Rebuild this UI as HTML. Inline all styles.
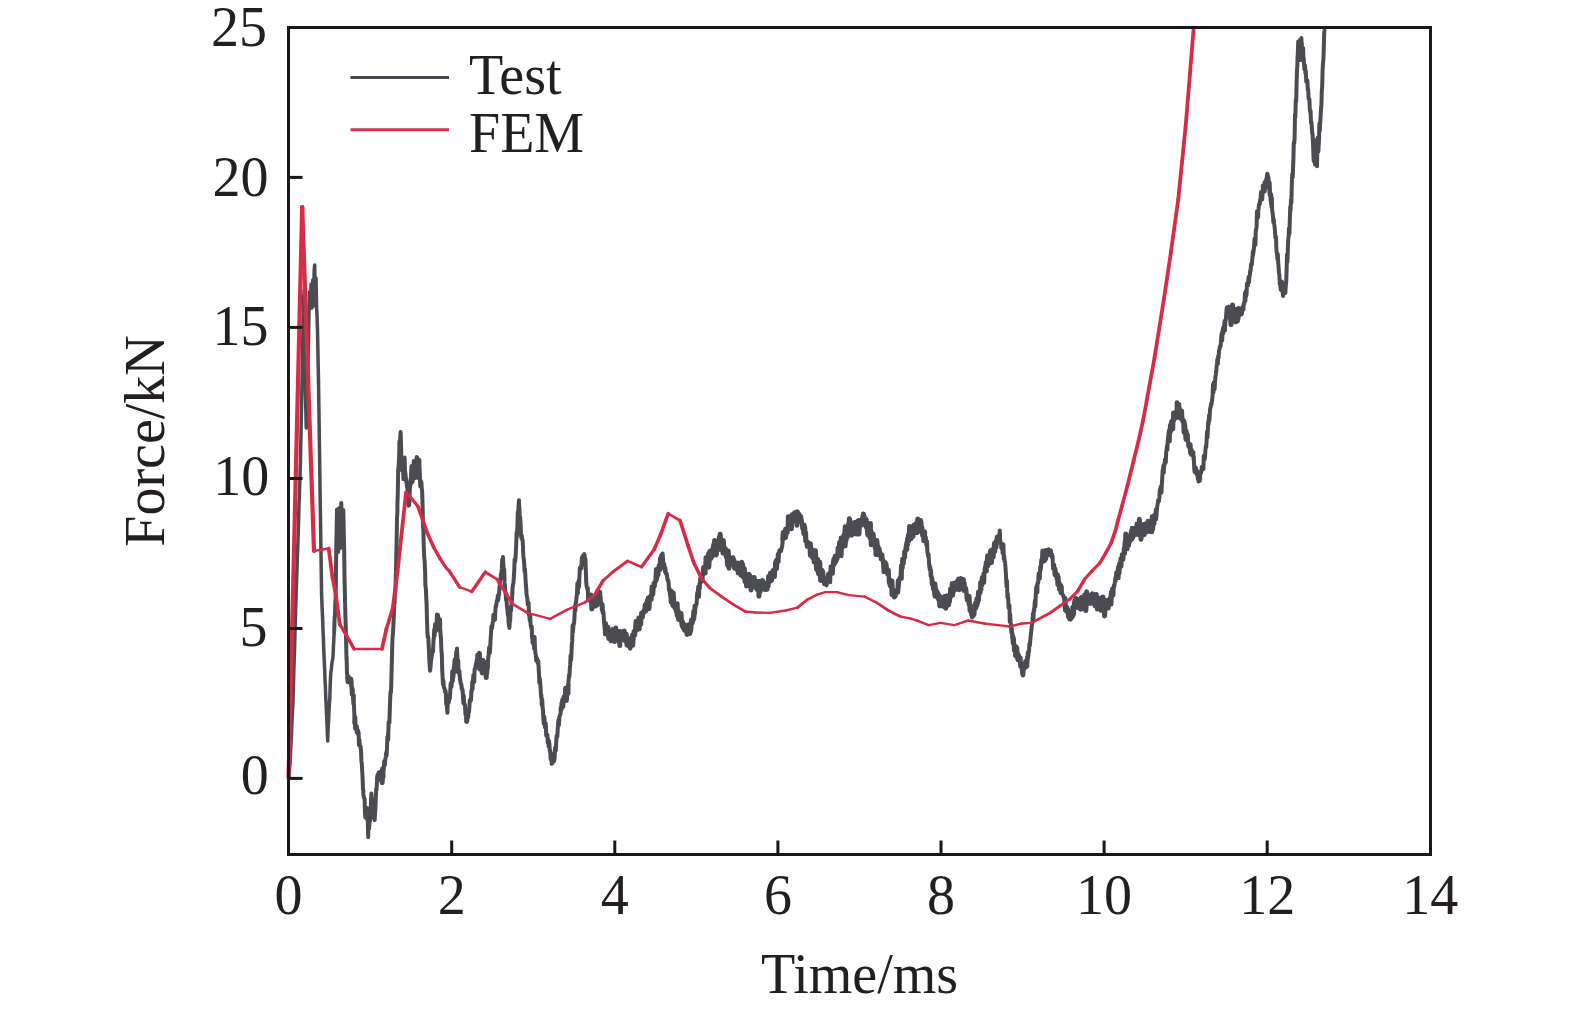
<!DOCTYPE html>
<html><head><meta charset="utf-8"><style>
html,body{margin:0;padding:0;background:#fff;}
svg{display:block;}
text{font-family:"Liberation Serif","Times New Roman",serif;font-size:56px;fill:#231f20;}
</style></head><body>
<svg width="1575" height="1011" viewBox="0 0 1575 1011">
<rect width="1575" height="1011" fill="#fff"/>
<g fill="none" stroke="#4b4c51" stroke-linejoin="round" stroke-linecap="round"><polyline points="288.6,777.5 289.0,774.4 289.4,769.9 289.8,765.4 290.0,765.0 290.2,759.9 290.6,750.4 291.0,743.4 291.4,736.8 291.8,725.2 292.2,716.3 292.6,709.5 293.0,700.6 293.0,700.0 293.4,686.8 293.8,671.8 294.2,660.0 294.6,647.8 295.0,631.2 295.4,619.3 295.8,603.6 296.0,600.0 296.2,591.9 296.6,579.1 297.0,569.6 297.4,556.0 297.8,546.4 298.0,540.0 298.2,533.9 298.6,520.5 299.0,504.0 299.4,494.3 299.8,482.3 300.2,469.8 300.5,460.0 300.6,452.6 301.0,434.2 301.4,413.4 301.8,393.7 302.0,385.0 302.2,375.3 302.6,349.4 303.0,327.8 303.4,306.4 303.4,305.0 303.8,296.6 304.2,289.8 304.2,290.0 304.6,330.2 305.0,370.1 305.0,370.0 305.4,388.0 305.6,400.0 305.8,408.1 306.2,426.2 306.3,428.0 306.6,416.2 307.0,407.6 307.2,400.0 307.4,390.2 307.8,369.0 308.2,353.2 308.2,350.0 308.6,333.4 309.0,312.4 309.4,296.6 309.5,292.0 309.8,298.9 310.2,305.7 310.3,308.0 310.6,300.1 311.0,286.9 311.1,284.0 311.4,294.1 311.8,307.3 311.9,308.0 312.2,296.4 312.6,283.8 312.7,280.0 313.0,289.0 313.4,303.0 313.5,306.0 313.8,288.7 314.2,269.1 314.2,270.0 314.6,265.7 314.7,265.0 315.0,281.4 315.4,301.8 315.4,300.0 315.8,283.2 316.0,278.0 316.2,286.7 316.6,309.0 316.6,308.0 317.0,314.6 317.4,326.8 317.5,330.0 317.8,344.8 318.2,367.0 318.5,380.0 318.6,388.1 319.0,414.5 319.4,442.4 319.5,450.0 319.8,470.6 320.2,501.4 320.5,520.0 320.6,526.1 321.0,553.6 321.4,581.9 321.6,595.0 321.8,599.8 322.2,609.7 322.6,618.2 323.0,630.0 323.0,630.0 323.4,638.9 323.8,651.1 324.2,659.8 324.6,668.4 325.0,679.1 325.4,687.1 325.5,690.0 325.8,698.6 326.2,706.2 326.6,716.4 327.0,722.7 327.4,734.6 327.7,741.0 327.8,736.1 328.2,726.7 328.6,720.7 329.0,710.9 329.4,703.8 329.8,698.3 330.2,684.6 330.6,676.1 330.8,672.7 331.0,671.4 331.4,668.7 331.8,664.5 332.2,661.3 332.6,659.6 333.0,656.1 333.2,653.7 333.4,647.6 333.8,640.1 334.2,631.5" stroke-width="3.5"/>
<polyline points="334.2,631.5 334.6,618.2 335.0,614.5 335.4,601.0 335.6,600.0 335.8,588.2 336.2,553.6 336.3,545.0 336.6,531.2 337.0,509.6 337.0,512.0 337.4,524.9 337.8,530.7 338.2,547.5 338.2,552.0 338.6,537.5 339.0,511.5 339.3,508.0 339.4,515.0 339.8,519.2 340.2,543.8 340.4,548.0 340.6,534.6 341.0,521.1 341.3,503.0 341.4,507.7 341.8,517.9 342.2,545.8 342.3,545.0 342.6,540.3 343.0,520.2 343.3,510.0 343.4,513.9 343.8,534.4 344.2,551.1 344.2,555.0 344.6,581.9 345.0,597.8 345.0,600.0 345.4,615.8 345.8,628.8 346.2,645.5 346.5,660.0 346.6,656.6 347.0,673.7 347.4,675.0 347.5,677.4" stroke-width="4.0"/>
<polyline points="347.5,677.4 347.8,681.9 348.2,678.9 348.6,676.9 349.0,679.1 349.4,679.0 349.8,682.1 350.2,681.4 350.6,682.5 351.0,679.0 351.4,682.1 351.4,685.3" stroke-width="4.5"/>
<polyline points="351.4,685.3 351.8,694.5 352.2,687.8 352.6,688.9 353.0,697.1 353.4,704.0 353.8,695.2 353.8,701.0 354.2,711.2 354.6,720.5 354.6,723.0" stroke-width="4.0"/>
<polyline points="354.6,723.0 355.0,717.2 355.4,728.5 355.8,726.7 356.2,728.3 356.6,726.3 357.0,732.4 357.4,729.7 357.7,732.8" stroke-width="4.5"/>
<polyline points="357.7,732.8 357.8,732.8 358.2,731.1 358.6,732.8 359.0,745.1 359.4,739.9 359.8,745.3 360.2,746.1 360.6,746.6 360.9,750.0 361.0,749.6 361.4,760.9 361.8,763.8 362.2,771.1 362.6,778.4 363.0,789.7 363.3,790.0 363.4,793.9 363.8,797.2 364.2,798.0 364.6,799.2 365.0,813.1 365.4,817.7 365.5,815.0 365.8,813.0 366.2,813.9 366.6,813.0 367.0,811.3 367.0,808.0 367.4,819.4 367.8,821.6 368.2,837.1 368.3,833.0 368.6,824.8 369.0,829.0 369.4,823.3 369.8,820.6 370.0,815.0 370.2,820.4 370.6,814.6 371.0,799.8 371.4,793.4 371.6,798.0 371.8,803.0 372.2,799.1 372.6,806.5 373.0,813.4 373.0,810.0 373.4,805.8 373.8,806.3 374.2,818.1 374.6,819.6 374.7,820.0 375.0,814.0 375.4,808.5 375.8,798.2 376.2,788.9 376.5,790.0 376.6,788.4 377.0,781.5 377.4,775.1 377.8,780.0 377.8,778.0" stroke-width="4.0"/>
<polyline points="377.8,778.0 378.2,777.4 378.6,779.0 379.0,773.1 379.4,774.1 379.8,772.5 380.2,772.6 380.6,776.6 381.0,772.4 381.4,776.7 381.8,776.3 382.2,782.7 382.6,768.7 383.0,777.6 383.0,774.0" stroke-width="5.0"/>
<polyline points="383.0,774.0 383.4,771.2 383.8,769.1 384.2,761.0 384.6,762.6 385.0,765.0 385.0,762.0 385.4,758.9 385.8,756.8 386.2,752.6 386.6,755.6 387.0,748.2 387.4,736.7 387.8,740.0 388.2,732.1 388.2,740.0 388.6,722.1 389.0,722.9 389.4,722.9 389.8,710.3 390.2,697.9 390.6,691.3 391.0,692.1 391.3,682.0 391.4,678.8 391.8,663.1 392.2,647.4 392.4,640.0 392.6,636.6 393.0,632.6 393.4,624.6 393.8,616.2 394.2,604.1 394.6,603.2 395.0,591.4 395.4,591.4 395.8,574.9 395.8,580.0 396.2,560.7 396.6,542.4 397.0,518.4 397.4,511.8 397.4,504.9 397.8,493.3 398.2,468.1 398.2,470.0 398.6,467.1 399.0,459.5 399.2,455.0 399.4,441.3 399.8,446.1 400.2,438.3 400.6,432.3 400.6,432.0 401.0,442.9 401.4,461.3 401.6,470.0 401.8,466.6 402.2,466.8 402.5,458.0 402.6,461.0 403.0,466.3 403.4,479.1 403.7,478.0 403.8,474.3 404.2,469.2 404.6,457.6 404.8,462.0 405.0,470.7 405.4,473.2 405.8,478.0 406.1,478.0 406.2,481.5 406.6,482.8 407.0,486.7 407.4,488.3 407.8,491.9 408.2,496.4 408.6,505.7 409.0,505.4 409.2,504.9 409.4,500.8 409.8,491.1 410.2,483.2 410.5,480.0 410.6,485.0 411.0,475.0 411.4,467.7 411.5,466.0 411.8,469.0 412.2,471.7 412.6,481.7 412.6,482.0 413.0,478.8 413.4,467.1 413.8,461.1 413.8,462.0 414.2,466.4 414.6,473.1 415.0,471.6 415.0,478.0 415.4,471.7 415.8,463.9 416.2,465.5 416.2,462.0 416.6,457.1 417.0,460.6 417.2,457.4 417.4,467.2 417.8,467.4 418.2,473.7 418.3,478.0 418.6,474.9 419.0,469.1 419.4,460.0 419.4,464.0 419.8,473.0 420.2,486.3 420.3,480.0 420.6,480.7 421.0,483.1 421.4,482.0 421.8,489.7 421.9,489.0 422.2,492.9 422.6,505.4 423.0,526.8 423.4,529.9 423.5,536.5 423.8,547.1 424.2,557.3 424.6,560.6 425.0,570.1 425.1,570.0 425.4,585.7 425.8,587.6 426.2,596.6 426.6,604.1 427.0,620.2 427.0,620.0 427.4,632.7 427.8,637.4 428.2,636.5 428.6,643.6 429.0,651.8 429.4,661.7 429.8,666.5 430.0,670.7 430.2,669.8 430.6,666.6 431.0,660.7 431.4,658.3 431.8,655.7 432.2,651.1 432.6,649.9 433.0,651.9 433.4,643.2 433.5,640.0 433.8,638.6 434.2,629.5 434.6,635.7 435.0,624.2 435.4,624.3 435.8,631.2 436.2,628.5 436.6,622.9 437.0,614.6 437.4,617.8 437.7,617.7" stroke-width="4.0"/>
<polyline points="437.7,617.7 437.8,615.3 438.2,621.8 438.6,629.6 439.0,622.7 439.4,620.0 439.8,619.7 440.0,625.0" stroke-width="4.5"/>
<polyline points="440.0,625.0 440.2,628.4 440.6,635.3 441.0,638.7 441.4,651.1 441.8,653.4 442.2,669.8 442.6,676.9 443.0,684.3 443.0,680.0 443.4,680.7 443.8,687.3 444.2,687.3 444.6,688.9 445.0,691.7 445.4,690.5 445.8,692.5 446.2,704.1 446.6,702.8 447.0,707.0 447.4,712.8 447.5,709.4 447.8,700.5 448.2,701.7 448.6,702.9 449.0,701.2 449.4,695.5 449.8,698.5 450.2,692.6 450.6,684.3 451.0,682.8 451.4,687.1 451.8,683.2 452.0,680.0 452.2,671.2 452.6,681.7 453.0,676.3 453.4,676.9 453.8,667.5 454.2,665.4 454.6,659.7 455.0,671.9 455.4,658.6 455.8,663.2 456.2,651.8 456.6,652.7 456.6,652.0 457.0,648.6 457.4,657.1 457.8,665.8 458.2,660.2 458.6,672.8 459.0,673.1 459.4,670.9 459.8,676.3 460.0,680.0 460.2,679.3 460.6,683.3 461.0,683.6 461.4,684.8 461.8,689.2 462.2,688.6 462.6,689.8 463.0,697.1 463.4,703.1 463.8,695.8 464.2,704.2 464.6,703.9 465.0,704.9 465.4,714.5 465.8,711.4 466.2,721.7 466.6,714.9 467.0,721.9 467.2,721.5 467.4,719.3 467.8,714.5 468.2,717.3 468.6,711.7 469.0,712.1 469.4,706.9 469.8,700.1 470.2,701.4 470.6,699.4 471.0,700.4 471.4,690.3 471.8,691.2 472.0,690.0 472.2,682.0 472.6,689.2 473.0,680.1 473.4,674.9 473.8,679.7 474.2,682.1 474.6,669.3 475.0,668.8 475.4,667.9 475.8,664.1 476.2,667.9 476.6,660.9 477.0,659.0 477.4,662.0 477.7,658.0" stroke-width="4.0"/>
<polyline points="477.7,658.0 477.8,655.1 478.2,660.5 478.6,655.6 479.0,655.3 479.4,653.4 479.8,668.9 480.2,660.8 480.6,663.7 481.0,663.2 481.4,664.7 481.8,664.9 482.0,665.0 482.2,673.0 482.6,661.8 483.0,660.4 483.4,663.3 483.8,662.7 484.2,671.7 484.6,672.6 485.0,666.2 485.4,665.1 485.8,669.9 486.2,677.6 486.6,662.3 486.8,673.0" stroke-width="5.0"/>
<polyline points="486.8,673.0 487.0,673.4 487.4,663.6 487.8,668.7 488.2,656.8 488.6,656.6 489.0,648.3 489.4,647.0 489.8,653.0 490.2,647.4 490.6,639.1 491.0,633.8 491.4,626.3 491.8,628.9 492.2,627.0 492.6,623.4 492.8,622.0 493.0,620.7 493.4,614.8 493.8,617.3 494.2,615.6 494.6,619.1 495.0,619.6 495.4,609.8 495.8,605.5 496.2,606.5 496.6,602.6 497.0,600.2 497.4,601.2 497.8,595.4 498.2,600.3 498.6,595.6 498.9,594.7 499.0,594.8 499.4,589.5 499.8,583.8 500.2,579.3 500.6,578.6 501.0,573.8 501.4,573.4 501.8,568.9 502.2,559.9 502.6,562.0 502.8,560.0 503.0,557.1 503.4,565.0 503.8,571.3 504.2,569.2 504.6,582.9 505.0,588.1 505.4,591.9 505.8,595.8 506.0,600.0 506.2,600.2 506.6,601.0 507.0,607.2 507.4,609.3 507.8,615.2 508.2,613.3 508.6,622.4 509.0,625.3 509.4,627.4 509.4,628.0 509.8,621.5 510.2,620.7 510.6,607.2 511.0,610.9 511.4,605.3 511.8,600.8 512.2,596.4 512.6,587.5 513.0,584.4 513.4,583.2 513.8,577.7 514.0,573.6 514.2,571.7 514.6,559.4 515.0,562.1 515.4,559.2 515.8,553.1 516.2,544.6 516.6,532.0 517.0,536.5 517.4,526.7 517.8,511.7 518.2,517.9 518.6,505.0 519.0,500.3 519.0,505.5 519.4,507.4 519.8,519.4 520.2,517.2 520.6,524.1 521.0,534.4 521.4,538.2 521.8,535.8 522.2,539.7 522.6,540.0 523.0,546.6 523.0,549.4 523.4,555.7 523.8,560.1 524.2,563.5 524.6,571.7 525.0,569.2 525.4,576.6 525.8,584.3 526.2,588.3 526.6,594.8 527.0,596.7 527.4,598.4 527.5,600.8 527.8,604.7 528.2,602.4 528.6,603.1 529.0,615.2 529.4,615.9 529.8,620.5 530.2,615.7 530.6,624.3 531.0,626.6 531.4,628.7 531.8,626.4 532.0,637.0 532.2,636.5 532.6,643.0 533.0,642.5 533.4,640.2 533.8,644.1 534.2,648.8 534.6,637.0 535.0,648.5 535.4,652.8 535.8,654.9 536.2,660.6 536.6,659.9 537.0,658.3 537.4,659.8 537.8,663.3 538.0,661.0 538.2,660.9 538.6,666.9 539.0,674.7 539.4,682.9 539.8,678.5 540.2,683.0 540.6,688.0 541.0,696.6 541.4,695.2 541.8,705.2 542.2,699.5 542.6,706.6 543.0,710.6 543.4,718.6 543.8,723.7 544.0,721.5 544.2,716.4 544.6,720.5 545.0,727.3 545.4,725.2 545.8,723.5 546.2,735.5 546.6,735.1 547.0,736.9 547.4,734.9 547.8,742.7 548.2,739.4 548.6,746.5 548.7,742.6 549.0,741.1 549.4,744.1 549.8,751.2 550.2,750.4 550.6,758.7 551.0,759.9 551.4,758.0 551.7,763.8 551.8,763.6 552.2,760.0 552.6,763.2 553.0,755.1 553.4,754.0 553.8,758.8 554.2,761.0 554.6,758.1 555.0,748.5 555.4,747.2 555.8,750.6 556.2,742.1 556.2,742.6 556.6,735.8 557.0,737.3 557.4,735.7 557.8,727.7 558.2,721.6 558.6,719.5 559.0,725.1 559.4,716.5 559.8,716.1 560.2,714.6 560.6,713.3 560.8,709.4" stroke-width="4.0"/>
<polyline points="560.8,709.4 561.0,707.4 561.4,709.4 561.8,702.6 562.2,703.4 562.6,699.4 563.0,706.8 563.4,700.8 563.8,696.7 564.2,696.9 564.6,696.2 565.0,698.5 565.4,688.1 565.8,689.0 566.2,690.3 566.6,700.7 567.0,693.1 567.4,687.5 567.8,689.5 568.2,693.6 568.3,685.0" stroke-width="4.5"/>
<polyline points="568.3,685.0 568.6,680.5 569.0,675.1 569.4,676.6 569.8,669.0 570.2,664.9 570.6,655.4 571.0,660.3 571.4,654.6 571.8,645.3 572.2,640.9 572.6,625.3 572.8,631.0 573.0,631.9 573.4,625.2 573.8,624.3 574.2,621.9 574.6,614.5 575.0,605.7 575.4,610.6 575.8,602.8 576.2,601.0 576.6,596.6 577.0,594.2 577.4,583.0 577.8,593.7 578.2,586.5 578.6,586.6 578.9,579.6 579.0,587.0 579.4,577.3 579.8,568.1 580.2,569.9 580.6,566.7 581.0,567.6 581.4,568.1 581.8,557.8 582.2,565.3 582.6,556.0 583.0,561.4 583.4,557.8 583.8,555.1 584.2,554.2 584.3,554.0 584.6,555.0 585.0,558.9 585.4,558.8 585.8,569.6 586.2,581.3 586.6,586.0 587.0,587.6 587.4,589.3 587.8,588.0 588.2,600.6 588.5,598.0" stroke-width="4.0"/>
<polyline points="588.5,598.0 588.6,597.8 589.0,598.0 589.4,597.3 589.8,599.1 590.2,597.2 590.6,598.8 591.0,595.0 591.4,598.1 591.8,608.9 592.2,599.7 592.6,599.3 593.0,602.6 593.4,603.5 593.8,596.4 594.0,601.0 594.2,600.0 594.6,604.3 595.0,601.4 595.4,600.6 595.8,606.0 596.2,596.8 596.6,599.6 597.0,596.9 597.4,604.7 597.8,590.7 598.2,595.5 598.6,595.8 599.0,600.3 599.4,599.8 599.8,602.7 600.0,597.0" stroke-width="5.0"/>
<polyline points="600.0,597.0 600.2,591.9 600.6,603.6 601.0,601.8 601.4,602.7 601.8,610.0 602.2,606.5 602.5,612.0 602.6,604.3 603.0,613.7 603.4,611.8 603.8,617.7 604.2,624.4 604.6,626.7 605.0,634.3 605.0,628.0" stroke-width="4.0"/>
<polyline points="605.0,628.0 605.4,628.1 605.8,623.6 606.2,627.6 606.6,627.8 607.0,627.4 607.4,634.9 607.8,631.5 608.2,627.0 608.6,638.6 608.8,636.2" stroke-width="4.5"/>
<polyline points="608.8,636.2 609.0,635.7 609.4,637.5 609.8,636.4 610.2,638.5 610.6,636.0 611.0,640.7 611.4,637.4 611.8,637.2 612.2,637.2 612.6,629.6 613.0,634.7 613.4,634.3 613.8,636.1 614.2,629.7 614.6,641.6 615.0,635.4 615.4,630.1 615.8,628.0 616.2,633.7 616.6,634.3 617.0,631.8 617.4,634.9 617.8,631.9 618.2,636.6 618.6,631.4 618.7,634.3 619.0,634.4 619.4,638.9 619.8,645.6 620.2,631.6 620.6,634.2 621.0,633.0 621.4,639.9 621.8,632.5 622.2,635.5 622.6,637.7 623.0,634.3 623.4,634.7 623.8,637.0 624.2,630.9 624.6,633.9 625.0,638.4 625.4,641.0 625.8,640.0 626.2,634.0 626.6,639.6 627.0,645.0 627.4,644.4 627.8,642.3 628.2,639.4 628.6,645.8 629.0,641.3 629.4,639.3 629.6,644.2" stroke-width="5.0"/>
<polyline points="629.6,644.2 629.8,640.5 630.2,648.4 630.6,642.5 631.0,645.2 631.4,637.6 631.8,642.3 632.2,635.1 632.6,635.8 633.0,645.4 633.4,637.5 633.8,631.4 634.2,632.0 634.6,632.6 635.0,635.1 635.4,627.3 635.8,621.2 636.2,626.1 636.5,626.4 636.6,626.3 637.0,625.8 637.4,629.9 637.8,625.1 638.2,626.3 638.6,617.8 639.0,624.9 639.4,629.0 639.8,622.9 640.2,620.0 640.6,618.8 641.0,624.5 641.4,612.9 641.8,615.4 642.2,616.8 642.6,617.2 643.0,611.7 643.4,613.8 643.8,610.7 644.2,611.5 644.6,609.7 645.0,604.8 645.4,608.5 645.8,611.3 646.2,603.1 646.4,606.6 646.6,605.1 647.0,607.7 647.4,599.7 647.8,603.6 648.2,597.6 648.6,605.3 649.0,609.0 649.4,606.8 649.8,596.8 650.2,599.6 650.6,596.0 651.0,594.9 651.4,599.6 651.8,587.1 652.2,595.5 652.4,590.8 652.6,589.9 653.0,594.4 653.4,588.1 653.8,583.3 654.2,585.7 654.6,586.2 655.0,582.0 655.4,582.4 655.8,577.0 656.2,569.2 656.6,580.0 657.0,577.8 657.4,574.2 657.8,572.5 658.2,575.0 658.6,567.7 659.0,565.3 659.4,566.0 659.8,570.1 660.2,558.4 660.6,567.4 661.0,558.7 661.4,555.4 661.8,563.5 662.2,556.7 662.2,557.1" stroke-width="4.5"/>
<polyline points="662.2,557.1 662.6,553.6 663.0,559.0 663.4,565.9 663.8,568.6 664.2,563.8 664.6,568.8 665.0,571.8 665.4,568.0 665.8,573.7 666.2,573.8 666.6,573.5 667.0,575.4 667.4,579.3 667.8,580.8 668.2,580.1 668.6,582.4 669.0,590.2 669.4,588.3 669.8,592.7 670.2,595.6 670.2,590.8" stroke-width="4.0"/>
<polyline points="670.2,590.8 670.6,594.4 671.0,602.3 671.4,591.1 671.8,598.9 672.2,595.6 672.6,605.5 673.0,606.1 673.4,592.7 673.8,597.9 674.2,605.6 674.6,607.3 675.0,608.3 675.4,606.3 675.8,609.6 676.2,611.6 676.6,609.9 677.0,615.6 677.4,603.6 677.8,616.4 678.0,614.5" stroke-width="4.5"/>
<polyline points="678.0,614.5 678.2,610.7 678.6,619.4 679.0,615.3 679.4,613.4 679.8,619.2 680.2,614.7 680.6,615.4 681.0,613.5 681.4,620.4 681.8,623.2 682.2,626.0 682.6,622.0 683.0,627.5 683.4,624.1 683.8,624.3 684.2,627.7 684.6,630.3 685.0,625.4 685.4,626.5 685.8,627.6 686.2,629.2 686.6,626.0 687.0,634.4 687.0,630.3 687.4,628.0 687.8,630.8 688.2,624.9 688.6,629.0 689.0,628.4 689.4,624.5 689.8,633.6 690.2,626.3 690.6,631.2 691.0,627.2 691.4,620.1 691.8,620.5 692.2,623.1 692.6,620.9 693.0,620.2 693.4,618.1 693.8,611.3 693.9,618.4" stroke-width="5.0"/>
<polyline points="693.9,618.4 694.2,615.9 694.6,605.7 695.0,613.8 695.4,607.3 695.8,605.1 696.2,604.9 696.6,604.7 697.0,595.6 697.4,592.2 697.8,592.7 698.2,586.6 698.6,588.7 699.0,596.7 699.4,584.0 699.8,588.6 700.2,578.3 700.6,582.8 701.0,578.1 701.4,577.0 701.8,577.3 701.8,575.0" stroke-width="4.0"/>
<polyline points="701.8,575.0 702.2,581.1 702.6,573.9 703.0,572.6 703.4,567.3 703.8,572.5 704.2,568.2 704.6,571.6 705.0,567.1 705.4,573.3 705.8,557.4 706.2,563.2 706.6,567.0 707.0,561.1 707.4,558.4 707.8,559.5 708.2,554.1 708.6,559.1 709.0,567.4 709.4,561.3 709.7,556.0" stroke-width="4.5"/>
<polyline points="709.7,556.0 709.8,551.4 710.2,551.9 710.6,553.2 711.0,558.3 711.4,550.5 711.8,550.5 712.2,556.3 712.6,555.7 713.0,550.2 713.4,546.7 713.8,544.4 714.2,547.3 714.6,540.6 715.0,552.0 715.4,546.0 715.8,549.9 716.2,554.9 716.6,551.6 717.0,541.8 717.4,549.4 717.8,550.0 718.2,541.9 718.6,540.5 719.0,543.3 719.4,536.9 719.6,543.0 719.8,549.2 720.2,534.3 720.6,540.2 721.0,544.2 721.4,545.0 721.8,547.2 722.2,548.3 722.6,547.0 723.0,553.0 723.4,540.6 723.8,549.8 724.2,547.6 724.6,551.6 725.0,552.6 725.4,548.7 725.8,550.5 726.2,556.8 726.6,555.7 727.0,552.2 727.4,563.8 727.8,565.5 728.2,551.0 728.6,558.8 729.0,568.2 729.4,562.0 729.5,559.0 729.8,560.2 730.2,558.9 730.6,557.9 731.0,559.7 731.4,558.7 731.8,564.3 732.2,560.1 732.6,560.4 733.0,557.7 733.4,562.7 733.8,559.8 734.2,563.0 734.6,568.3 735.0,566.0 735.4,567.0 735.8,566.8 736.2,566.0 736.6,565.7 737.0,565.3 737.4,570.0 737.8,563.0 738.2,573.1 738.6,568.3 739.0,565.6 739.4,567.0 739.8,566.7 740.2,570.4 740.6,567.3 741.0,575.2 741.4,567.9 741.4,571.0 741.8,562.3 742.2,568.9 742.6,564.2 743.0,572.4 743.4,577.2 743.8,576.0 744.2,568.4 744.6,571.2 745.0,581.7 745.4,576.3 745.8,575.4 746.2,580.0 746.6,586.0 747.0,581.8 747.4,577.6 747.8,578.8 748.2,580.3 748.6,575.7 749.0,574.4 749.4,579.2 749.8,575.6 750.2,579.6 750.6,580.6 751.0,590.0 751.4,577.6 751.8,580.9 752.2,581.1 752.6,583.9 753.0,586.8 753.2,582.8 753.4,581.1 753.8,580.2 754.2,577.4 754.6,580.8 755.0,587.1 755.4,585.6 755.8,581.8 756.2,584.9 756.6,587.0 757.0,589.4 757.4,585.4 757.8,587.3 758.2,581.5 758.6,584.6 759.0,596.2 759.4,581.5 759.8,589.3 759.9,590.8 760.2,591.4 760.6,588.6 761.0,586.5 761.4,589.1 761.8,588.9 762.2,588.2 762.6,580.6 763.0,587.1 763.4,583.9 763.8,584.7 764.2,587.4 764.6,588.7 765.0,589.3 765.4,583.3 765.8,588.6 766.2,589.2 766.6,588.6 767.0,589.3 767.4,582.7 767.8,582.2 768.2,585.8 768.6,576.6 769.0,582.5 769.4,579.2 769.8,579.4 769.8,580.9" stroke-width="5.0"/>
<polyline points="769.8,580.9 770.2,573.0 770.6,575.5 771.0,578.1 771.4,580.8 771.8,580.3 772.2,575.0 772.6,573.7 773.0,570.2 773.4,574.2 773.8,570.7 774.2,573.2 774.6,576.8 775.0,568.8 775.4,562.0 775.8,563.6 776.2,560.3 776.6,560.4 776.7,565.0" stroke-width="4.5"/>
<polyline points="776.7,565.0 777.0,568.9 777.4,562.9 777.8,554.1 778.2,561.1 778.6,561.8 779.0,553.5 779.4,550.5 779.8,550.1 780.2,550.9 780.6,550.6 781.0,551.0 781.4,549.4 781.8,547.5 782.2,546.5 782.6,541.9 782.6,539.3" stroke-width="4.0"/>
<polyline points="782.6,539.3 783.0,532.2 783.4,536.9 783.8,537.8 784.2,534.0 784.6,538.3 785.0,532.3 785.4,529.1 785.8,537.6 786.2,533.6 786.6,530.9 787.0,532.8 787.4,532.4 787.8,528.6 788.2,516.4 788.6,522.6 789.0,522.6 789.4,519.5 789.6,523.0" stroke-width="4.5"/>
<polyline points="789.6,523.0 789.8,523.5 790.2,527.0 790.6,519.8 791.0,516.6 791.4,528.8 791.8,518.3 792.2,514.7 792.6,520.1 793.0,520.3 793.4,515.3 793.8,520.7 794.2,515.1 794.6,512.8 795.0,516.7 795.0,516.0 795.4,518.9 795.8,513.0 796.2,516.6 796.6,514.7 797.0,525.3 797.4,511.8 797.8,519.9 798.2,514.0 798.5,514.0" stroke-width="5.0"/>
<polyline points="798.5,514.0 798.6,513.7 799.0,517.9 799.4,519.4 799.8,521.7 800.2,518.7 800.6,515.8 801.0,516.8 801.4,521.8 801.5,520.0" stroke-width="4.5"/>
<polyline points="801.5,520.0 801.8,523.6 802.2,528.5 802.6,526.3 803.0,530.6 803.4,534.1 803.4,528.0" stroke-width="4.0"/>
<polyline points="803.4,528.0 803.8,530.0 804.2,524.7 804.6,527.2 805.0,527.5 805.4,540.9 805.8,532.4 806.2,542.0 806.6,540.8 807.0,546.6 807.4,545.0 807.8,541.9 808.2,542.8 808.6,545.3 809.0,546.9 809.3,547.2 809.4,545.3 809.8,548.2 810.2,555.7 810.6,543.4 811.0,552.1 811.4,548.4 811.8,553.7 812.2,557.2 812.6,554.6 813.0,558.8 813.4,550.3 813.8,562.0 814.2,556.1 814.6,561.9 815.0,561.0 815.3,561.0" stroke-width="4.5"/>
<polyline points="815.3,561.0 815.4,550.8 815.8,558.8 816.2,563.4 816.6,569.4 817.0,565.0 817.4,565.6 817.8,559.6 818.2,571.6 818.6,573.8 819.0,567.4 819.4,567.1 819.8,562.2 820.2,572.8 820.6,580.4 821.0,573.5 821.2,571.0" stroke-width="5.0"/>
<polyline points="821.2,571.0 821.4,576.7 821.8,575.1 822.2,570.3 822.6,580.8 823.0,571.8 823.4,577.2 823.8,580.5 824.0,580.0 824.2,583.9 824.6,582.9 825.0,583.5 825.4,579.8 825.8,578.4 826.2,584.6 826.5,585.0 826.6,582.0 827.0,578.8 827.4,578.1 827.8,580.4 828.2,574.2 828.6,575.4 829.0,573.5 829.0,580.0" stroke-width="4.5"/>
<polyline points="829.0,580.0 829.4,578.8 829.8,577.8 830.2,582.3 830.6,566.4 831.0,567.8 831.1,570.0" stroke-width="4.0"/>
<polyline points="831.1,570.0 831.4,573.0 831.8,567.6 832.2,566.3 832.6,573.6 833.0,564.5 833.4,560.3 833.8,558.8 834.2,564.6 834.6,563.6 835.0,556.0 835.4,556.7 835.8,561.9 836.2,561.2 836.6,555.4 837.0,559.6 837.0,557.1 837.4,558.3 837.8,547.9 838.2,552.7 838.6,554.5 839.0,549.5 839.4,542.2 839.8,548.6 840.2,551.7 840.6,553.9 841.0,537.8 841.4,555.9 841.8,540.0 842.2,547.2 842.6,547.3 843.0,545.2 843.0,541.3 843.4,541.0 843.8,534.8 844.2,541.0 844.6,534.7 845.0,526.5 845.4,546.1 845.8,537.6 846.2,541.1 846.6,529.2 847.0,537.8 847.4,537.4 847.8,536.3 848.2,529.1 848.6,523.4 848.9,527.5" stroke-width="4.5"/>
<polyline points="848.9,527.5 849.0,526.8 849.4,518.7 849.8,520.7 850.2,527.9 850.6,523.5 851.0,526.8 851.4,527.1 851.8,535.2 852.2,532.7 852.6,527.3 853.0,532.3 853.4,524.4 853.8,526.2 854.2,531.1 854.6,522.5 855.0,526.4 855.4,522.2 855.8,528.0 856.2,534.0 856.6,524.5 856.8,527.5 857.0,528.1 857.4,523.1 857.8,521.6 858.2,520.7 858.6,530.9 859.0,534.0 859.4,526.0 859.8,520.6 860.2,525.8 860.6,521.1 861.0,525.1 861.4,522.5 861.8,521.9 862.2,522.7 862.6,517.4 862.7,519.6 863.0,518.5 863.4,513.9 863.8,519.6 864.2,516.4 864.6,522.1 865.0,519.5 865.4,524.4 865.8,526.5 866.2,519.6 866.6,522.7 867.0,522.9 867.4,530.3 867.8,534.8 868.2,532.0 868.6,527.8 868.7,529.4" stroke-width="5.0"/>
<polyline points="868.7,529.4 869.0,535.9 869.4,524.9 869.8,537.9 870.2,530.2 870.6,523.3 871.0,545.0 871.4,541.8 871.8,532.3 872.2,538.0 872.6,537.3 873.0,539.5 873.4,534.1 873.8,538.2 874.2,543.7 874.6,543.6 875.0,548.4 875.4,544.8 875.8,554.8 876.2,543.4 876.6,548.2 876.6,547.2 877.0,540.3 877.4,543.8 877.8,554.9 878.2,546.6 878.6,553.3 879.0,551.8 879.4,548.7 879.8,552.2 880.2,552.4 880.6,553.3 881.0,559.1 881.4,559.5 881.8,555.4 882.2,554.8 882.6,560.4 883.0,559.7 883.4,565.0 883.8,572.1 884.2,565.9 884.5,563.1 884.6,563.2 885.0,563.8 885.4,562.3 885.8,563.2 886.2,564.0 886.6,567.5 887.0,568.6 887.4,574.4 887.8,571.0 888.2,572.9 888.6,570.0 889.0,582.6 889.4,579.2 889.8,585.4 890.2,582.6 890.4,580.0 890.6,586.6 891.0,580.9 891.4,586.1 891.8,594.9 892.2,580.9 892.6,591.7 893.0,595.1 893.4,591.3 893.8,593.9 894.2,597.3 894.6,590.8 895.0,596.4 895.4,592.4 895.4,596.0" stroke-width="4.5"/>
<polyline points="895.4,596.0 895.8,591.6 896.2,590.2 896.6,590.5 897.0,590.1 897.4,589.7 897.8,580.4 898.2,592.7 898.6,587.7 899.0,584.3 899.4,578.2 899.8,577.7 900.2,578.7 900.3,576.0 900.6,576.2 901.0,565.5 901.4,573.4 901.8,578.7 902.2,558.7 902.6,568.3 903.0,563.7 903.4,559.7 903.8,563.7 904.2,551.2 904.6,554.7 905.0,558.0 905.4,549.1 905.8,546.1 906.2,546.3 906.3,545.3" stroke-width="4.0"/>
<polyline points="906.3,545.3 906.6,542.6 907.0,549.7 907.4,538.5 907.8,544.7 908.2,534.9 908.6,541.7 909.0,537.4 909.4,526.3 909.8,535.5 910.2,530.1 910.6,531.5 910.9,532.5" stroke-width="4.5"/>
<polyline points="910.9,532.5 911.0,538.7 911.4,527.3 911.8,527.0 912.2,536.8 912.6,530.8 913.0,536.2 913.4,530.7 913.8,525.2 914.2,528.0 914.6,532.9 915.0,531.2 915.4,526.8 915.8,526.5 916.2,525.3 916.6,522.9 917.0,532.7 917.4,524.3 917.8,519.1 917.9,523.6 918.2,522.1 918.6,527.6 919.0,527.8 919.4,525.2 919.8,523.6 920.2,527.0 920.6,520.6 921.0,522.7 921.4,531.9 921.8,527.2 922.2,531.3 922.6,535.4 923.0,533.6 923.4,531.6 923.8,540.8 924.2,535.4 924.6,531.8 924.8,533.5" stroke-width="5.0"/>
<polyline points="924.8,533.5 925.0,538.0 925.4,539.5 925.8,537.2 926.2,544.0 926.6,545.9 927.0,541.4 927.4,551.7 927.8,554.1 928.2,556.4 928.6,554.3 929.0,562.6 929.4,566.8 929.7,569.1 929.8,570.0 930.2,566.8 930.6,576.0 931.0,570.3 931.4,576.2 931.8,584.4 932.2,578.1 932.6,580.7 933.0,589.2 933.4,585.1 933.8,587.3 934.2,591.3 934.6,596.6 934.7,592.8" stroke-width="4.0"/>
<polyline points="934.7,592.8 935.0,584.1 935.4,590.3 935.8,590.0 936.2,590.2 936.6,591.7 937.0,592.2 937.4,597.4 937.8,593.0 938.2,597.7 938.6,599.3 939.0,595.2 939.4,599.2 939.8,605.9 940.2,601.0 940.6,597.6 941.0,600.4 941.4,597.4 941.8,602.8 942.2,605.7 942.6,599.3 942.6,602.7 943.0,601.4 943.4,606.4 943.8,599.5 944.2,601.9 944.6,596.5 945.0,597.0 945.4,597.8 945.8,608.2 946.2,597.5 946.6,596.6 947.0,596.0 947.4,597.2 947.8,600.1 948.2,597.9 948.6,604.9 949.0,597.2 949.4,601.7 949.8,596.6 950.2,597.5 950.5,594.8 950.6,588.9 951.0,593.5 951.4,593.2 951.8,591.9 952.2,583.6 952.6,595.2 953.0,589.5 953.4,588.7 953.8,588.9 954.2,588.4 954.6,590.3 955.0,583.0 955.4,583.8 955.8,588.0 956.2,586.9 956.6,584.2 957.0,582.8 957.4,581.2 957.8,583.7 958.2,588.0 958.4,583.0 958.6,579.0 959.0,589.7 959.4,587.4 959.8,582.6 960.2,587.9 960.6,579.3 961.0,578.7 961.4,580.8 961.8,584.8 962.2,585.5 962.6,585.1 963.0,588.0 963.4,579.5 963.8,590.4 964.2,583.1 964.3,588.9" stroke-width="5.0"/>
<polyline points="964.3,588.9 964.6,587.2 965.0,589.4 965.4,587.6 965.8,588.0 966.2,590.7 966.6,595.9 967.0,599.5 967.4,600.6 967.8,595.6 968.2,597.6 968.6,598.3 969.0,605.0 969.4,596.3 969.8,610.6 970.2,605.0 970.6,605.0 971.0,610.7 971.4,614.7 971.8,613.2 972.2,617.2 972.2,613.0 972.6,612.7 973.0,616.3 973.4,615.5 973.8,609.3 974.2,614.7 974.6,608.8 975.0,607.7 975.4,602.8 975.8,604.5 976.2,608.0 976.6,598.8 977.0,605.8 977.4,603.8 977.8,602.7 978.2,592.0 978.2,600.8" stroke-width="4.5"/>
<polyline points="978.2,600.8 978.6,598.6 979.0,599.8 979.4,592.3 979.8,594.0 980.2,582.3 980.6,592.7 981.0,585.5 981.4,589.9 981.8,577.2 982.2,585.5 982.6,580.0 983.0,582.4 983.4,573.7 983.8,573.1 984.2,582.7 984.6,568.6 985.0,567.3 985.4,567.2 985.8,562.5 986.1,565.2" stroke-width="4.0"/>
<polyline points="986.1,565.2 986.2,569.8 986.6,571.1 987.0,560.6 987.4,555.7 987.8,566.5 988.2,565.4 988.6,563.4 989.0,564.0 989.4,555.1 989.8,557.1 990.2,551.4 990.6,550.5 991.0,559.2 991.4,551.8 991.8,562.8 992.0,553.3 992.2,553.1 992.6,549.3 993.0,554.1 993.4,557.2 993.8,551.0 994.2,543.2 994.6,548.6 995.0,551.7 995.4,543.3 995.8,541.2 996.2,547.4 996.6,542.9 997.0,537.0 997.4,539.0 997.8,536.5 998.2,539.8 998.6,538.1 999.0,541.3 999.4,538.6 999.5,535.5" stroke-width="4.5"/>
<polyline points="999.5,535.5 999.8,530.6 1000.2,540.3 1000.6,544.0 1001.0,544.1 1001.4,548.2 1001.8,543.7 1002.2,543.8 1002.6,553.2 1003.0,547.0 1003.4,544.4 1003.8,559.0 1003.9,555.3 1004.2,555.7 1004.6,561.9 1005.0,562.0 1005.4,566.7 1005.8,571.9 1006.2,579.5 1006.6,586.9 1007.0,580.7 1007.4,597.3 1007.8,594.1 1007.8,598.8 1008.2,597.7 1008.6,607.8 1009.0,608.0 1009.4,605.3 1009.8,622.0 1010.2,614.3 1010.6,621.9 1011.0,624.9 1011.4,632.9 1011.8,628.6 1012.2,637.6 1012.6,633.8 1012.8,638.3" stroke-width="4.0"/>
<polyline points="1012.8,638.3 1013.0,643.5 1013.4,637.3 1013.8,640.2 1014.2,650.6 1014.6,645.6 1015.0,646.1 1015.4,656.0 1015.8,649.8 1016.2,646.4 1016.6,654.0 1017.0,647.7 1017.4,658.3 1017.8,659.9 1018.2,654.1 1018.6,655.3 1018.7,658.1" stroke-width="4.5"/>
<polyline points="1018.7,658.1 1019.0,660.0 1019.4,660.9 1019.8,658.5 1020.2,666.3 1020.6,657.4 1021.0,665.5 1021.4,667.1 1021.8,669.3 1022.2,673.2 1022.6,668.6 1022.7,673.9" stroke-width="4.0"/>
<polyline points="1022.7,673.9 1023.0,675.3 1023.4,670.9 1023.8,667.8 1024.2,663.6 1024.6,663.0 1025.0,667.9 1025.4,661.3 1025.8,664.2 1026.2,666.9 1026.6,665.5 1027.0,666.3 1027.4,657.6 1027.6,658.1" stroke-width="4.5"/>
<polyline points="1027.6,658.1 1027.8,652.2 1028.2,657.4 1028.6,651.4 1029.0,651.5 1029.4,643.9 1029.8,645.5 1030.2,640.9 1030.6,637.3 1031.0,633.3 1031.4,629.7 1031.8,625.9 1032.2,622.7 1032.6,622.6 1032.6,618.6 1033.0,613.6 1033.4,619.7 1033.8,609.5 1034.2,610.9 1034.6,603.7 1035.0,600.2 1035.4,606.4 1035.8,594.1 1036.2,587.3 1036.6,586.7 1037.0,585.4 1037.4,592.3 1037.5,583.0 1037.8,582.3 1038.2,583.2 1038.6,573.5 1039.0,576.9 1039.4,576.2 1039.8,578.7 1040.2,566.7 1040.6,569.9 1041.0,566.7 1041.4,559.4 1041.5,563.0" stroke-width="4.0"/>
<polyline points="1041.5,563.0 1041.8,562.2 1042.2,560.1 1042.6,550.9 1043.0,561.5 1043.4,560.3 1043.8,555.3 1044.2,550.7 1044.6,560.9 1045.0,555.1 1045.0,554.0" stroke-width="4.5"/>
<polyline points="1045.0,554.0 1045.4,557.6 1045.8,558.7 1046.2,550.5 1046.6,555.4 1047.0,550.7 1047.4,551.0 1047.8,550.5 1048.2,550.3 1048.5,550.0" stroke-width="5.0"/>
<polyline points="1048.5,550.0 1048.6,554.7 1049.0,551.5 1049.4,551.2 1049.8,551.5 1050.2,554.8 1050.6,550.6 1051.0,553.0 1051.4,555.6 1051.8,554.3 1052.0,557.0" stroke-width="4.5"/>
<polyline points="1052.0,557.0 1052.2,557.2 1052.6,556.7 1053.0,568.6 1053.4,567.4 1053.8,565.3 1054.2,564.7 1054.6,575.1 1055.0,569.1 1055.4,568.9 1055.8,571.9 1056.2,573.3 1056.6,579.2 1057.0,574.9 1057.0,575.0 1057.4,584.8 1057.8,574.4 1058.2,582.1 1058.6,576.8 1059.0,589.5 1059.4,582.3 1059.8,584.8 1060.2,590.2 1060.6,593.0 1061.0,585.0 1061.4,589.5 1061.8,586.7 1062.0,593.0 1062.2,594.3 1062.6,594.8 1063.0,595.4 1063.4,595.5 1063.8,598.2 1064.2,598.3 1064.6,604.9 1065.0,610.3 1065.4,598.0 1065.8,606.8 1066.0,608.0" stroke-width="4.0"/>
<polyline points="1066.0,608.0 1066.2,606.9 1066.6,611.7 1067.0,607.0 1067.4,611.4 1067.8,608.9 1068.2,617.0 1068.6,615.7 1069.0,615.8 1069.4,619.1 1069.8,617.7 1069.9,619.0 1070.2,611.9 1070.6,619.4 1071.0,617.0 1071.4,614.1 1071.8,617.5 1072.2,617.3 1072.6,607.0 1073.0,607.1 1073.4,615.3 1073.8,613.6 1074.2,603.8 1074.6,600.9 1074.8,605.1" stroke-width="4.5"/>
<polyline points="1074.8,605.1 1075.0,602.5 1075.4,602.8 1075.8,598.3 1076.2,604.5 1076.6,599.1 1077.0,599.2 1077.4,607.5 1077.8,600.9 1078.2,603.1 1078.6,605.7 1079.0,606.3 1079.4,601.5 1079.8,602.8 1080.2,599.1 1080.6,609.2 1081.0,604.6 1081.4,597.4 1081.8,601.7 1082.2,604.3 1082.6,603.2 1083.0,608.4 1083.4,606.3 1083.8,598.5 1084.2,600.1 1084.6,595.1 1084.7,600.2 1085.0,601.2 1085.4,600.8 1085.8,610.6 1086.2,600.6 1086.6,591.8 1087.0,597.5 1087.4,600.6 1087.8,595.2 1088.2,596.7 1088.6,598.7 1089.0,601.6 1089.4,599.5 1089.8,596.6 1090.2,603.4 1090.6,598.0 1091.0,598.2 1091.4,594.7 1091.8,597.1 1092.2,602.8 1092.6,593.7 1093.0,599.9 1093.4,603.1 1093.8,598.7 1094.2,601.2 1094.6,595.7 1094.6,600.2 1095.0,605.7 1095.4,605.2 1095.8,602.0 1096.2,594.4 1096.6,597.5 1097.0,605.9 1097.4,609.1 1097.8,603.8 1098.2,607.9 1098.6,600.8 1099.0,602.7 1099.4,603.8 1099.8,605.8 1100.2,598.3 1100.6,608.4 1101.0,610.3 1101.4,600.7 1101.8,600.2 1102.2,607.3 1102.6,603.6 1103.0,597.0 1103.4,610.0 1103.8,607.7 1104.2,605.5 1104.5,607.6 1104.6,615.9 1105.0,607.3 1105.4,603.1 1105.8,605.8 1106.2,600.6 1106.6,601.0 1107.0,605.0 1107.4,600.5 1107.8,600.3 1108.2,608.1 1108.6,604.2 1109.0,603.3 1109.4,601.5 1109.8,600.7 1110.2,603.9 1110.6,597.3 1111.0,604.1 1111.4,592.2 1111.8,594.3 1111.9,595.2" stroke-width="5.0"/>
<polyline points="1111.9,595.2 1112.2,588.6 1112.6,591.3 1113.0,593.2 1113.4,595.5 1113.8,585.6 1114.2,586.8 1114.6,583.8 1115.0,580.9 1115.4,577.6 1115.8,581.1 1116.2,572.5 1116.6,578.4 1117.0,576.5 1117.4,572.4 1117.8,569.5 1118.2,566.5 1118.6,578.1 1119.0,563.7 1119.3,568.0 1119.4,573.8 1119.8,568.4 1120.2,563.0 1120.6,558.2 1121.0,565.4 1121.4,566.6 1121.8,554.3 1122.2,555.3 1122.6,559.1 1123.0,554.6 1123.4,559.7 1123.8,547.8 1124.2,550.6 1124.6,541.9 1125.0,553.7 1125.4,540.8 1125.5,543.3" stroke-width="4.0"/>
<polyline points="1125.5,543.3 1125.8,534.0 1126.2,541.8 1126.6,541.2 1127.0,548.8 1127.4,539.3 1127.8,540.0 1128.2,541.9 1128.6,545.3 1129.0,538.1 1129.4,541.9 1129.8,539.3 1130.2,535.5 1130.6,536.4 1131.0,535.6 1131.4,531.3 1131.8,539.2 1132.2,528.3 1132.6,537.9 1133.0,536.5 1133.4,531.8 1133.8,528.5 1134.2,530.1 1134.2,531.0 1134.6,532.8 1135.0,533.8 1135.4,531.8 1135.8,534.6 1136.2,528.3 1136.6,531.3 1137.0,524.0 1137.4,533.2 1137.8,530.7 1138.2,528.3 1138.6,534.5 1139.0,532.6 1139.4,519.3 1139.8,529.7 1140.2,523.7 1140.6,533.7 1141.0,539.2 1141.4,527.1 1141.8,529.4 1142.2,528.0 1142.6,530.3 1143.0,531.4 1143.4,533.8 1143.8,524.6 1144.1,528.5 1144.2,534.7 1144.6,524.5 1145.0,529.2 1145.4,532.5 1145.8,530.5 1146.2,523.7 1146.6,524.4 1147.0,525.2 1147.4,526.6 1147.8,531.2 1148.2,521.3 1148.6,528.1 1149.0,528.5 1149.4,528.1 1149.8,527.5 1150.2,531.5 1150.6,527.2 1151.0,528.4 1151.4,527.1 1151.8,531.8 1152.2,516.8 1152.6,529.3 1153.0,523.0 1153.4,522.7 1153.8,519.7 1154.0,523.5" stroke-width="5.0"/>
<polyline points="1154.0,523.5 1154.2,515.1 1154.6,519.3 1155.0,516.2 1155.4,519.1 1155.8,509.5 1156.2,519.3 1156.6,512.8 1157.0,508.9 1157.4,505.3 1157.8,503.1 1158.2,500.0 1158.6,500.5 1158.9,501.3 1159.0,500.7 1159.4,497.4 1159.8,489.8 1160.2,491.9 1160.6,486.8 1161.0,488.4 1161.4,492.7 1161.8,485.1 1162.2,478.8 1162.6,471.0 1163.0,469.2 1163.4,465.6 1163.8,472.6 1163.9,469.1 1164.2,464.1 1164.6,464.8 1165.0,459.5 1165.4,459.8 1165.8,462.4 1166.2,451.5 1166.6,450.3 1167.0,445.8 1167.4,449.9 1167.8,439.7 1168.2,436.7 1168.6,433.1 1169.0,430.4 1169.4,435.4 1169.8,441.2 1170.0,429.6" stroke-width="4.0"/>
<polyline points="1170.0,429.6 1170.2,425.1 1170.6,431.8 1171.0,427.9 1171.4,421.4 1171.8,423.6 1172.2,422.7 1172.6,419.8 1173.0,429.2 1173.4,412.7 1173.8,420.8 1174.2,419.5 1174.6,414.8 1175.0,416.6 1175.4,418.4 1175.8,414.4 1176.2,414.4 1176.6,414.4 1177.0,402.4 1177.4,415.4 1177.8,417.5 1178.2,411.2 1178.2,407.3 1178.6,412.6 1179.0,404.2 1179.4,410.6 1179.8,409.1 1180.2,411.2 1180.6,418.7 1181.0,412.8 1181.4,416.8 1181.8,410.9 1182.2,419.2 1182.6,421.4 1183.0,419.5 1183.4,420.7 1183.8,432.4 1184.2,421.2 1184.6,423.1 1185.0,425.3 1185.4,434.6 1185.8,439.5 1186.1,432.0" stroke-width="4.5"/>
<polyline points="1186.1,432.0 1186.2,433.7 1186.6,431.0 1187.0,433.6 1187.4,441.0 1187.8,434.6 1188.2,445.5 1188.6,446.9 1189.0,442.9 1189.4,446.7 1189.8,448.6 1190.2,453.3 1190.6,444.3 1191.0,454.7 1191.4,450.0 1191.8,449.9 1192.2,454.8 1192.6,455.0 1193.0,453.4 1193.4,452.4 1193.5,459.2 1193.8,456.8 1194.2,468.1 1194.6,472.0 1195.0,468.5 1195.4,472.4 1195.8,467.4 1196.2,470.9 1196.6,474.2 1197.0,470.5 1197.4,472.6 1197.8,478.8 1198.2,478.9 1198.5,481.5 1198.6,476.9 1199.0,481.2 1199.4,477.2 1199.8,480.9 1200.2,475.4 1200.6,472.7 1201.0,473.0 1201.4,470.4 1201.8,467.0 1202.2,466.6 1202.6,469.8 1203.0,467.9 1203.4,469.0 1203.8,455.7 1204.2,459.4 1204.6,457.9 1204.7,459.2 1205.0,456.9 1205.4,450.4 1205.8,446.1 1206.2,447.3 1206.6,440.9 1207.0,431.5 1207.4,437.5 1207.8,432.1 1208.2,421.8 1208.4,422.1 1208.6,424.2 1209.0,415.6 1209.4,420.7 1209.8,412.9 1210.2,408.2 1210.6,407.5 1211.0,403.6 1211.4,405.0 1211.8,402.6 1212.2,399.6 1212.6,394.9 1213.0,384.3 1213.4,392.7 1213.8,382.4 1214.2,388.6 1214.4,386.4 1214.6,389.3 1215.0,382.7 1215.4,376.9 1215.8,374.6 1216.2,371.6 1216.6,366.8 1217.0,363.5 1217.4,358.9 1217.8,364.2 1218.2,356.2 1218.3,355.5 1218.6,357.7 1219.0,350.6 1219.4,349.7 1219.8,346.5 1220.2,346.8 1220.6,346.0 1221.0,341.5 1221.4,335.6 1221.8,333.0 1222.2,340.5 1222.6,330.5 1223.0,328.3 1223.4,333.1 1223.4,327.2 1223.8,330.0 1224.2,326.2 1224.6,320.9 1225.0,330.3 1225.4,320.9 1225.8,319.9 1226.2,315.5 1226.6,308.9 1227.0,307.6 1227.3,311.8" stroke-width="4.0"/>
<polyline points="1227.3,311.8 1227.4,313.5 1227.8,313.7 1228.2,311.4 1228.6,308.0 1229.0,307.2 1229.4,311.9 1229.8,307.6 1230.2,317.3 1230.6,318.6 1231.0,324.7 1231.4,318.0 1231.8,312.4 1232.2,311.6 1232.6,304.9 1233.0,313.2 1233.4,315.1 1233.8,320.0 1234.2,318.8 1234.6,319.0 1235.0,317.8 1235.0,316.9 1235.4,319.1 1235.8,321.9 1236.2,311.4 1236.6,313.5 1237.0,309.3 1237.4,321.0 1237.8,319.3 1238.2,316.7 1238.6,308.5 1239.0,313.6 1239.4,311.6 1239.8,312.4 1240.2,310.9 1240.6,313.4 1241.0,309.3 1241.4,313.9 1241.8,311.1 1242.2,308.5 1242.6,308.9 1242.7,309.2" stroke-width="5.0"/>
<polyline points="1242.7,309.2 1243.0,306.1 1243.4,309.3 1243.8,303.2 1244.2,303.7 1244.6,299.2 1245.0,293.0 1245.4,300.8 1245.8,291.1 1246.2,296.3 1246.6,293.5 1247.0,283.4 1247.4,284.5 1247.8,284.4 1247.9,286.0 1248.2,280.9 1248.6,277.0 1249.0,282.3 1249.4,276.0 1249.8,276.1 1250.2,270.4 1250.6,270.9 1251.0,264.3 1251.4,264.8 1251.8,264.8 1252.2,260.2 1252.6,255.8 1253.0,250.9 1253.0,255.2 1253.4,252.5 1253.8,249.8 1254.2,244.1 1254.6,238.6 1255.0,240.5 1255.4,244.9 1255.8,230.4 1256.2,229.6 1256.6,226.4 1257.0,211.2 1257.4,218.6 1257.8,211.9 1258.2,216.9 1258.2,211.4 1258.6,208.4 1259.0,204.3 1259.4,204.5 1259.8,204.1 1260.2,199.2 1260.6,199.2 1261.0,192.0 1261.4,194.6 1261.8,196.6 1262.2,199.4 1262.6,192.3 1263.0,188.6 1263.3,186.0" stroke-width="4.0"/>
<polyline points="1263.3,186.0 1263.4,190.6 1263.8,189.2 1264.2,191.1 1264.6,188.0 1265.0,182.5 1265.4,183.3 1265.8,182.3 1266.2,182.1 1266.6,181.0 1266.7,180.0" stroke-width="5.0"/>
<polyline points="1266.7,180.0 1267.0,177.9 1267.4,174.0 1267.8,181.2 1268.2,177.1 1268.6,186.9 1269.0,188.0 1269.4,182.7 1269.8,193.6 1270.2,195.7 1270.6,194.0 1271.0,201.7 1271.0,195.0" stroke-width="4.5"/>
<polyline points="1271.0,195.0 1271.4,206.4 1271.8,198.0 1272.2,210.9 1272.6,212.5 1273.0,216.3 1273.4,222.3 1273.8,219.6 1274.2,224.0 1274.6,227.0 1275.0,231.2 1275.4,237.8 1275.8,236.3 1276.2,241.8 1276.2,246.0 1276.6,252.2 1277.0,253.5 1277.4,259.2 1277.8,254.0 1278.2,262.3 1278.6,267.1 1279.0,273.3 1279.4,274.7 1279.5,278.0 1279.8,284.5 1280.2,284.2 1280.6,288.2 1280.8,290.0 1281.0,288.7 1281.4,288.8 1281.8,281.4 1282.0,282.0 1282.2,289.0 1282.6,291.5 1283.0,295.3 1283.1,296.0 1283.4,293.6 1283.8,292.1 1284.2,290.6 1284.5,284.0 1284.6,288.4 1285.0,288.5 1285.4,292.9 1285.5,290.0 1285.8,285.1 1286.2,282.4 1286.6,270.0 1287.0,254.6 1287.0,262.9 1287.4,262.0 1287.8,250.8 1288.2,239.5 1288.6,237.1 1289.0,228.2 1289.4,233.8 1289.8,221.2 1290.2,206.7 1290.3,211.4 1290.6,209.1 1291.0,199.4 1291.4,202.8 1291.8,185.0 1292.2,174.3 1292.6,177.6 1292.9,172.9 1293.0,169.1 1293.4,159.1 1293.8,142.6 1294.2,143.2 1294.6,138.5 1295.0,114.5 1295.4,117.1 1295.5,110.0 1295.8,99.9 1296.2,101.2 1296.6,83.1 1297.0,70.2 1297.4,65.0 1297.5,58.0 1297.8,54.1 1298.2,41.6 1298.3,42.0 1298.6,51.6 1299.0,55.7 1299.1,60.0 1299.4,45.3 1299.8,50.6 1299.9,40.0 1300.2,46.1 1300.6,55.1 1300.7,60.0 1301.0,54.6 1301.4,38.0 1301.5,42.0 1301.8,43.3 1302.2,55.8 1302.3,60.0 1302.6,53.4 1303.0,49.8 1303.1,48.0 1303.4,57.8 1303.8,58.5 1304.0,64.0 1304.2,67.2 1304.6,70.0 1305.0,65.6 1305.4,73.2 1305.8,70.9 1306.2,81.3 1306.6,81.2 1306.7,80.0 1307.0,82.6 1307.4,80.5 1307.8,89.6 1308.2,89.4 1308.6,98.7 1309.0,98.7 1309.4,99.3 1309.8,109.5 1310.2,112.1 1310.3,110.0 1310.6,111.2 1311.0,123.0 1311.4,122.0 1311.8,126.8 1312.2,133.3 1312.6,134.6 1312.8,140.0 1313.0,143.2 1313.4,154.4 1313.6,160.0 1313.8,161.1 1314.2,151.0 1314.4,140.0 1314.6,145.0 1315.0,164.4 1315.2,164.0 1315.4,158.3 1315.8,149.0 1316.0,142.0 1316.2,150.5 1316.6,158.2 1316.8,162.0 1317.0,166.2 1317.4,146.5 1317.6,140.0 1317.8,137.4 1318.2,151.9 1318.5,150.0 1318.6,146.6 1319.0,139.9 1319.4,123.6 1319.8,130.8 1320.2,123.0 1320.6,115.8 1321.0,109.4 1321.4,105.1 1321.8,91.0 1321.8,91.2 1322.2,86.0 1322.6,70.3 1323.0,62.9 1323.4,59.6 1323.8,47.9 1324.2,32.1 1324.5,30.7" stroke-width="4.0"/></g>
<g stroke="#d62c46" stroke-linecap="round" fill="none"><line x1="288.6" y1="777.5" x2="302.2" y2="207.0" stroke-width="4.20"/><line x1="302.2" y1="207.0" x2="314.0" y2="551.0" stroke-width="4.20"/><line x1="314.0" y1="551.0" x2="328.7" y2="548.5" stroke-width="2.34"/><line x1="328.7" y1="548.5" x2="332.6" y2="578.5" stroke-width="3.78"/><line x1="332.6" y1="578.5" x2="335.8" y2="594.3" stroke-width="3.74"/><line x1="335.8" y1="594.3" x2="339.8" y2="624.4" stroke-width="3.77"/><line x1="339.8" y1="624.4" x2="343.7" y2="630.7" stroke-width="3.38"/><line x1="343.7" y1="630.7" x2="349.2" y2="640.2" stroke-width="3.42"/><line x1="349.2" y1="640.2" x2="354.0" y2="649.0" stroke-width="3.46"/><line x1="354.0" y1="649.0" x2="382.0" y2="649.0" stroke-width="2.30"/><line x1="382.0" y1="649.0" x2="386.4" y2="629.0" stroke-width="3.73"/><line x1="386.4" y1="629.0" x2="392.7" y2="608.6" stroke-width="3.67"/><line x1="392.7" y1="608.6" x2="397.5" y2="572.0" stroke-width="3.77"/><line x1="397.5" y1="572.0" x2="400.0" y2="548.0" stroke-width="3.78"/><line x1="400.0" y1="548.0" x2="406.1" y2="492.5" stroke-width="3.78"/><line x1="406.1" y1="492.5" x2="411.6" y2="498.5" stroke-width="3.12"/><line x1="411.6" y1="498.5" x2="417.9" y2="506.4" stroke-width="3.22"/><line x1="417.9" y1="506.4" x2="421.9" y2="517.5" stroke-width="3.63"/><line x1="421.9" y1="517.5" x2="427.4" y2="533.3" stroke-width="3.64"/><line x1="427.4" y1="533.3" x2="433.8" y2="547.5" stroke-width="3.55"/><line x1="433.8" y1="547.5" x2="440.1" y2="558.6" stroke-width="3.43"/><line x1="440.1" y1="558.6" x2="446.4" y2="568.1" stroke-width="3.34"/><line x1="446.4" y1="568.1" x2="449.0" y2="570.6" stroke-width="3.02"/><line x1="449.0" y1="570.6" x2="459.6" y2="587.2" stroke-width="3.37"/><line x1="459.6" y1="587.2" x2="471.7" y2="591.7" stroke-width="2.48"/><line x1="471.7" y1="591.7" x2="485.3" y2="572.0" stroke-width="3.32"/><line x1="485.3" y1="572.0" x2="497.4" y2="579.6" stroke-width="2.72"/><line x1="497.4" y1="579.6" x2="512.5" y2="603.8" stroke-width="3.38"/><line x1="512.5" y1="603.8" x2="527.5" y2="612.8" stroke-width="2.70"/><line x1="527.5" y1="612.8" x2="550.2" y2="618.9" stroke-width="2.40"/><line x1="550.2" y1="618.9" x2="566.8" y2="609.8" stroke-width="2.65"/><line x1="566.8" y1="609.8" x2="585.0" y2="602.3" stroke-width="2.52"/><line x1="585.0" y1="602.3" x2="595.0" y2="594.7" stroke-width="2.85"/><line x1="595.0" y1="594.7" x2="602.9" y2="580.9" stroke-width="3.43"/><line x1="602.9" y1="580.9" x2="612.8" y2="572.0" stroke-width="2.97"/><line x1="612.8" y1="572.0" x2="627.6" y2="561.0" stroke-width="2.83"/><line x1="627.6" y1="561.0" x2="641.5" y2="567.0" stroke-width="2.54"/><line x1="641.5" y1="567.0" x2="654.3" y2="549.2" stroke-width="3.29"/><line x1="654.3" y1="549.2" x2="660.3" y2="535.4" stroke-width="3.56"/><line x1="660.3" y1="535.4" x2="668.2" y2="513.6" stroke-width="3.63"/><line x1="668.2" y1="513.6" x2="680.0" y2="520.5" stroke-width="2.68"/><line x1="680.0" y1="520.5" x2="688.0" y2="545.3" stroke-width="3.66"/><line x1="688.0" y1="545.3" x2="693.9" y2="563.0" stroke-width="3.65"/><line x1="693.9" y1="563.0" x2="701.8" y2="578.9" stroke-width="3.50"/><line x1="701.8" y1="578.9" x2="709.7" y2="587.8" stroke-width="3.14"/><line x1="709.7" y1="587.8" x2="721.6" y2="596.7" stroke-width="2.84"/><line x1="721.6" y1="596.7" x2="733.5" y2="604.6" stroke-width="2.76"/><line x1="733.5" y1="604.6" x2="745.3" y2="611.5" stroke-width="2.68"/><line x1="745.3" y1="611.5" x2="755.0" y2="612.5" stroke-width="2.32"/><line x1="755.0" y1="612.5" x2="769.8" y2="612.9" stroke-width="2.30"/><line x1="769.8" y1="612.9" x2="785.6" y2="610.5" stroke-width="2.33"/><line x1="785.6" y1="610.5" x2="797.5" y2="607.6" stroke-width="2.38"/><line x1="797.5" y1="607.6" x2="807.4" y2="599.7" stroke-width="2.88"/><line x1="807.4" y1="599.7" x2="817.2" y2="594.7" stroke-width="2.61"/><line x1="817.2" y1="594.7" x2="825.2" y2="592.1" stroke-width="2.44"/><line x1="825.2" y1="592.1" x2="837.0" y2="592.1" stroke-width="2.30"/><line x1="837.0" y1="592.1" x2="848.9" y2="595.1" stroke-width="2.39"/><line x1="848.9" y1="595.1" x2="864.7" y2="596.7" stroke-width="2.32"/><line x1="864.7" y1="596.7" x2="876.6" y2="602.6" stroke-width="2.60"/><line x1="876.6" y1="602.6" x2="888.4" y2="610.5" stroke-width="2.76"/><line x1="888.4" y1="610.5" x2="900.3" y2="616.5" stroke-width="2.60"/><line x1="900.3" y1="616.5" x2="910.0" y2="618.4" stroke-width="2.36"/><line x1="910.0" y1="618.4" x2="916.9" y2="620.5" stroke-width="2.43"/><line x1="916.9" y1="620.5" x2="928.7" y2="625.1" stroke-width="2.50"/><line x1="928.7" y1="625.1" x2="940.6" y2="622.9" stroke-width="2.35"/><line x1="940.6" y1="622.9" x2="954.4" y2="625.1" stroke-width="2.34"/><line x1="954.4" y1="625.1" x2="968.3" y2="620.5" stroke-width="2.45"/><line x1="968.3" y1="620.5" x2="984.1" y2="623.5" stroke-width="2.35"/><line x1="984.1" y1="623.5" x2="998.0" y2="625.1" stroke-width="2.32"/><line x1="998.0" y1="625.1" x2="1009.8" y2="626.5" stroke-width="2.32"/><line x1="1009.8" y1="626.5" x2="1021.7" y2="623.5" stroke-width="2.39"/><line x1="1021.7" y1="623.5" x2="1031.6" y2="622.9" stroke-width="2.31"/><line x1="1031.6" y1="622.9" x2="1043.4" y2="616.5" stroke-width="2.64"/><line x1="1043.4" y1="616.5" x2="1050.0" y2="613.0" stroke-width="2.63"/><line x1="1050.0" y1="613.0" x2="1059.9" y2="606.0" stroke-width="2.80"/><line x1="1059.9" y1="606.0" x2="1069.8" y2="599.1" stroke-width="2.79"/><line x1="1069.8" y1="599.1" x2="1077.7" y2="591.2" stroke-width="3.05"/><line x1="1077.7" y1="591.2" x2="1084.6" y2="579.3" stroke-width="3.42"/><line x1="1084.6" y1="579.3" x2="1092.5" y2="570.4" stroke-width="3.14"/><line x1="1092.5" y1="570.4" x2="1099.5" y2="563.5" stroke-width="3.04"/><line x1="1099.5" y1="563.5" x2="1105.4" y2="553.6" stroke-width="3.41"/><line x1="1105.4" y1="553.6" x2="1111.3" y2="542.7" stroke-width="3.46"/><line x1="1111.3" y1="542.7" x2="1115.3" y2="530.9" stroke-width="3.65"/><line x1="1115.3" y1="530.9" x2="1118.2" y2="520.0" stroke-width="3.70"/><line x1="1118.2" y1="520.0" x2="1122.0" y2="506.0" stroke-width="3.70"/><line x1="1122.0" y1="506.0" x2="1127.4" y2="486.0" stroke-width="3.70"/><line x1="1127.4" y1="486.0" x2="1133.8" y2="460.0" stroke-width="3.71"/><line x1="1133.8" y1="460.0" x2="1138.5" y2="441.0" stroke-width="3.71"/><line x1="1138.5" y1="441.0" x2="1143.2" y2="420.0" stroke-width="3.73"/><line x1="1143.2" y1="420.0" x2="1154.5" y2="357.9" stroke-width="3.75"/><line x1="1154.5" y1="357.9" x2="1164.0" y2="298.6" stroke-width="3.76"/><line x1="1164.0" y1="298.6" x2="1171.1" y2="251.1" stroke-width="3.77"/><line x1="1171.1" y1="251.1" x2="1178.3" y2="199.0" stroke-width="3.77"/><line x1="1178.3" y1="199.0" x2="1185.6" y2="126.8" stroke-width="3.78"/><line x1="1185.6" y1="126.8" x2="1190.0" y2="73.4" stroke-width="3.79"/><line x1="1190.0" y1="73.4" x2="1193.6" y2="29.0" stroke-width="3.79"/></g>

<g stroke="#1a1718" stroke-width="3" fill="none">
<rect x="288.5" y="27.5" width="1142" height="827"/>
<line x1="451.7" y1="840.5" x2="451.7" y2="854.5"/><line x1="614.8" y1="840.5" x2="614.8" y2="854.5"/><line x1="777.9" y1="840.5" x2="777.9" y2="854.5"/><line x1="941.0" y1="840.5" x2="941.0" y2="854.5"/><line x1="1104.1" y1="840.5" x2="1104.1" y2="854.5"/><line x1="1267.2" y1="840.5" x2="1267.2" y2="854.5"/><line x1="288.5" y1="778.4" x2="302.5" y2="778.4"/><line x1="288.5" y1="628.5" x2="302.5" y2="628.5"/><line x1="288.5" y1="478.5" x2="302.5" y2="478.5"/><line x1="288.5" y1="327.4" x2="302.5" y2="327.4"/><line x1="288.5" y1="177.4" x2="302.5" y2="177.4"/>
</g>
<g><text x="288.6" y="913.5" text-anchor="middle">0</text><text x="451.7" y="913.5" text-anchor="middle">2</text><text x="614.8" y="913.5" text-anchor="middle">4</text><text x="777.9" y="913.5" text-anchor="middle">6</text><text x="941.0" y="913.5" text-anchor="middle">8</text><text x="1104.1" y="913.5" text-anchor="middle">10</text><text x="1267.2" y="913.5" text-anchor="middle">12</text><text x="1430.3" y="913.5" text-anchor="middle">14</text></g>
<g><text x="268.8" y="794.1" text-anchor="end">0</text><text x="267.6" y="645.5" text-anchor="end">5</text><text x="269.2" y="494.8" text-anchor="end">10</text><text x="268.4" y="344.8" text-anchor="end">15</text><text x="268.5" y="195.7" text-anchor="end">20</text><text x="267" y="45.8" text-anchor="end">25</text></g>
<text x="859.5" y="993.2" text-anchor="middle">Time/ms</text>
<text transform="translate(163.5,441) rotate(-90)" text-anchor="middle">Force/kN</text>
<line x1="350.5" y1="77.4" x2="449" y2="77.4" stroke="#46474c" stroke-width="3"/>
<line x1="350.5" y1="129.8" x2="449" y2="129.8" stroke="#d8354e" stroke-width="3"/>
<text x="469" y="94.1">Test</text>
<text x="469" y="151.6">FEM</text>
</svg>
</body></html>
